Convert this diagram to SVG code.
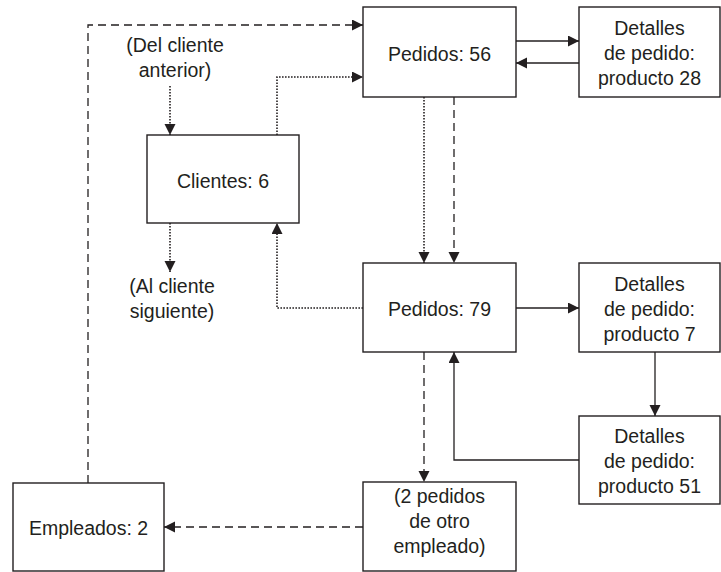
<svg xmlns="http://www.w3.org/2000/svg" width="721" height="572" viewBox="0 0 721 572">
<style>
.box{fill:#fff;stroke:#231f20;stroke-width:1.4}
.t{font-family:"Liberation Sans",Arial,sans-serif;font-size:19.5px;fill:#231f20;text-anchor:middle}
.c{fill:none;stroke:#231f20;stroke-width:1.3}
.dash{stroke-dasharray:8 5}
.dot{stroke-width:1.6;stroke-dasharray:1.6 1.4}
</style>
<defs>
<marker id="ah" markerUnits="userSpaceOnUse" markerWidth="12" markerHeight="12" refX="11" refY="5.5" orient="auto">
<path d="M0,0 L11,5.5 L0,11 Z" fill="#231f20"/>
</marker>
</defs>
<rect width="721" height="572" fill="#fff"/>
<g id="connectors">
<path class="c dash" d="M88,483 V25 H363" marker-end="url(#ah)"/>
<path class="c dot" d="M277,135 V77 H363" marker-end="url(#ah)"/>
<path class="c dot" d="M170,86 V135" marker-end="url(#ah)"/>
<path class="c dot" d="M170,223 V272" marker-end="url(#ah)"/>
<path class="c dot" d="M363,308 H277 V223" marker-end="url(#ah)"/>
<path class="c dot" d="M424,97 V263" marker-end="url(#ah)"/>
<path class="c dash" d="M454,97 V263" marker-end="url(#ah)"/>
<path class="c" d="M516,41 H579" marker-end="url(#ah)"/>
<path class="c" d="M579,63 H516" marker-end="url(#ah)"/>
<path class="c" d="M516,308 H579" marker-end="url(#ah)"/>
<path class="c" d="M655,352 V416" marker-end="url(#ah)"/>
<path class="c" d="M579,460 H454 V352" marker-end="url(#ah)"/>
<path class="c dash" d="M424,352 V482" marker-end="url(#ah)"/>
<path class="c dash" d="M363,527 H164" marker-end="url(#ah)"/>
</g>
<g id="pedidos56">
<rect class="box" x="363" y="7" width="153" height="90"/>
<text class="t" x="439.5" y="61">Pedidos: 56</text>
</g>
<g id="detalles28">
<rect class="box" x="579" y="7" width="141" height="90"/>
<text class="t" x="649.5" y="35">Detalles</text>
<text class="t" x="649.5" y="60">de pedido:</text>
<text class="t" x="649.5" y="85">producto 28</text>
</g>
<g id="del-cliente">
<text class="t" x="175" y="52">(Del cliente</text>
<text class="t" x="175" y="77">anterior)</text>
</g>
<g id="clientes6">
<rect class="box" x="147" y="135" width="152" height="88"/>
<text class="t" x="223" y="188">Clientes: 6</text>
</g>
<g id="al-cliente">
<text class="t" x="172" y="293">(Al cliente</text>
<text class="t" x="172" y="318">siguiente)</text>
</g>
<g id="pedidos79">
<rect class="box" x="363" y="263" width="153" height="89"/>
<text class="t" x="439.5" y="316">Pedidos: 79</text>
</g>
<g id="detalles7">
<rect class="box" x="579" y="263" width="141" height="89"/>
<text class="t" x="649.5" y="291">Detalles</text>
<text class="t" x="649.5" y="316">de pedido:</text>
<text class="t" x="649.5" y="341">producto 7</text>
</g>
<g id="detalles51">
<rect class="box" x="579" y="416" width="141" height="88"/>
<text class="t" x="649.5" y="443">Detalles</text>
<text class="t" x="649.5" y="468">de pedido:</text>
<text class="t" x="649.5" y="493">producto 51</text>
</g>
<g id="otro-empleado">
<rect class="box" x="363" y="482" width="153" height="89"/>
<text class="t" x="439.5" y="503">(2 pedidos</text>
<text class="t" x="439.5" y="528">de otro</text>
<text class="t" x="439.5" y="553">empleado)</text>
</g>
<g id="empleados2">
<rect class="box" x="13" y="483" width="151" height="88"/>
<text class="t" x="88.5" y="535">Empleados: 2</text>
</g>
</svg>
